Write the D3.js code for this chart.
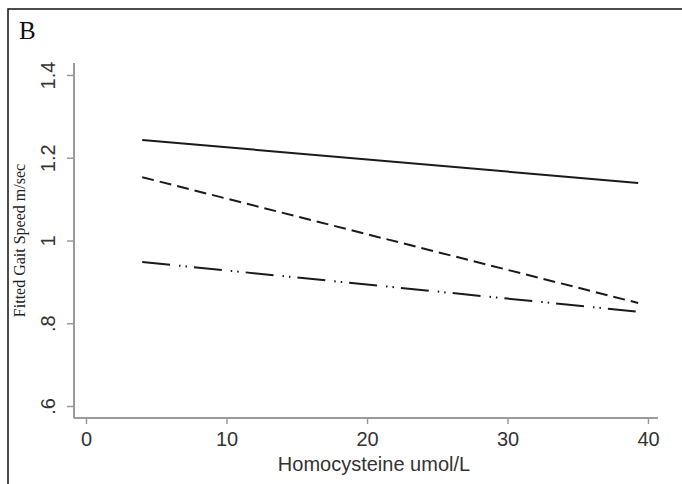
<!DOCTYPE html>
<html>
<head>
<meta charset="utf-8">
<script src="https://cdn.jsdelivr.net/npm/d3@7/dist/d3.min.js"></script>
<style>
  html, body { margin: 0; padding: 0; background: #fff; }
  svg { display: block; }
</style>
</head>
<body>
<div id="chart"></div>
<script>
// Data
const xTicks = [0, 10, 20, 30, 40];
const yTicks = [0.6, 0.8, 1, 1.2, 1.4];
const yTickLabels = [".6", ".8", "1", "1.2", "1.4"];
const homocysteine = [4, 39.3];
const speedSolid = [1.243, 1.139];
const speedDashed = [1.153, 0.849];
const speedDashDot = [0.948, 0.828];

const width = 682, height = 484;

// plot region (Stata draws axes a bit beyond the ticks)
const region = { left: 74, right: 658, top: 63, bottom: 418 };

const x = d3.scaleLinear().domain([0, 40]).range([86, 648]);
const y = d3.scaleLinear().domain([0.6, 1.4]).range([406, 75]);

const svg = d3.select("#chart").append("svg")
    .attr("width", width)
    .attr("height", height);

// panel frame (top + left only, image is cropped)
svg.append("path")
    .attr("d", `M8,${height} L8,9 L${width},9`)
    .attr("fill", "none")
    .attr("stroke", "#111")
    .attr("stroke-width", 1.5);

svg.append("text")
    .attr("x", 19).attr("y", 39)
    .attr("font-family", "'Liberation Serif', 'Times New Roman', serif")
    .attr("font-size", 25)
    .attr("fill", "#111")
    .text("B");

const axisColor = "#9a9a9a";
const labelColor = "#333";
const sans = "'Liberation Sans', Arial, sans-serif";

// X axis
const xAxis = svg.append("g")
    .attr("transform", `translate(0,${region.bottom})`)
    .call(d3.axisBottom(x).tickValues(xTicks).tickSize(6).tickPadding(8));
xAxis.select(".domain").remove();
xAxis.selectAll(".tick line").attr("stroke", axisColor).attr("stroke-width", 1.5);
xAxis.selectAll(".tick text")
    .attr("font-family", sans).attr("font-size", 20).attr("fill", labelColor);

svg.append("line")
    .attr("x1", region.left).attr("x2", region.right)
    .attr("y1", region.bottom).attr("y2", region.bottom)
    .attr("stroke", axisColor).attr("stroke-width", 2);

// Y axis
const yAxis = svg.append("g")
    .attr("transform", `translate(${region.left},0)`)
    .call(d3.axisLeft(y).tickValues(yTicks).tickSize(7)
        .tickFormat((d, i) => yTickLabels[i]));
yAxis.select(".domain").remove();
yAxis.selectAll(".tick line").attr("stroke", axisColor).attr("stroke-width", 1.5);
yAxis.selectAll(".tick text")
    .attr("font-family", sans).attr("font-size", 20).attr("fill", labelColor)
    .attr("text-anchor", "middle")
    .attr("dy", null)
    .attr("x", null)
    .attr("transform", "translate(-19,0) rotate(-90)");

svg.append("line")
    .attr("x1", region.left).attr("x2", region.left)
    .attr("y1", region.top).attr("y2", region.bottom)
    .attr("stroke", axisColor).attr("stroke-width", 2);

// axis titles
svg.append("text")
    .attr("x", 374)
    .attr("y", 471)
    .attr("text-anchor", "middle")
    .attr("font-family", sans).attr("font-size", 20).attr("fill", labelColor)
    .text("Homocysteine umol/L");

svg.append("text")
    .attr("transform", `translate(25,${(region.top + region.bottom) / 2}) rotate(-90)`)
    .attr("text-anchor", "middle")
    .attr("font-family", "'Liberation Serif', 'Times New Roman', serif")
    .attr("font-size", 16).attr("fill", "#222")
    .text("Fitted Gait Speed m/sec");

// fitted lines
const series = [
    { values: speedSolid, dash: null },
    { values: speedDashed, dash: "12,6" },
    { values: speedDashDot, dash: "28,9,1.5,5,1.5,7" }
];

const line = d3.line()
    .x(d => x(d[0]))
    .y(d => y(d[1]));

series.forEach(s => {
    svg.append("path")
        .datum(homocysteine.map((h, i) => [h, s.values[i]]))
        .attr("d", line)
        .attr("fill", "none")
        .attr("stroke", "#1a1a1a")
        .attr("stroke-width", 2)
        .attr("stroke-dasharray", s.dash);
});
</script>
</body>
</html>
